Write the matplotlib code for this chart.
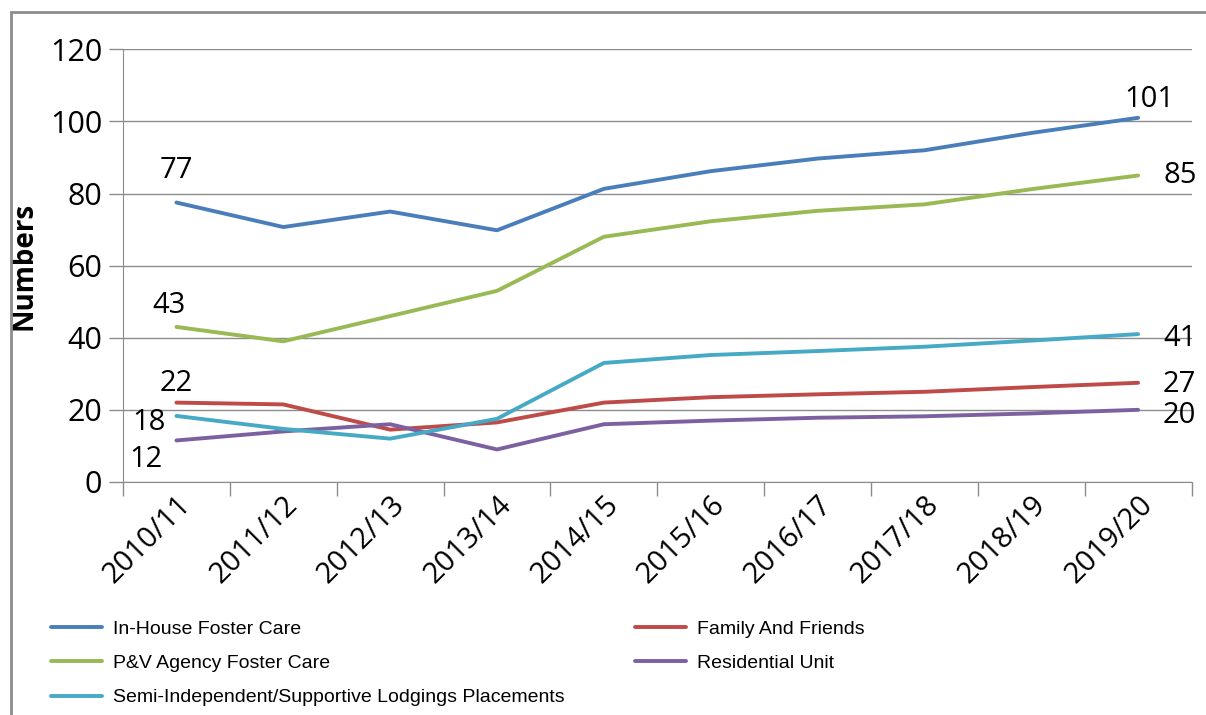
import matplotlib.pyplot as plt
import matplotlib.patches as patches
import numpy as np

years = ["2010/11", "2011/12", "2012/13", "2013/14", "2014/15",
         "2015/16", "2016/17", "2017/18", "2018/19", "2019/20"]
in_house = [77.5, 70.7, 75, 69.8, 81.3, 86.2, 89.7, 92, 96.8, 101]
family = [22, 21.5, 14.5, 16.5, 22, 23.5, 24.3, 25, 26.3, 27.5]
pv_agency = [43, 39, 46, 53, 68, 72.3, 75.2, 77, 81.2, 85]
residential = [11.5, 14, 16, 9, 16, 17, 17.8, 18.2, 19, 20]
semi_indep = [18.3, 14.7, 12, 17.5, 33, 35.2, 36.3, 37.5, 39.2, 41]

names = ["In-House Foster Care", "Family And Friends", "P&V Agency Foster Care",
         "Residential Unit", "Semi-Independent/Supportive Lodgings Placements"]
colors = ["#4A7EBB", "#BE4B48", "#98B954", "#7D60A0", "#46AAC5"]

plt.rcParams['font.family'] = ['Open Sans', 'DejaVu Sans']

fig = plt.figure(figsize=(12.06, 7.15), dpi=100)
ax = fig.add_axes([0.102, 0.326, 0.886, 0.605])

x = np.arange(len(years))
series = [in_house, family, pv_agency, residential, semi_indep]
lines = []
for vals, name, c in zip(series, names, colors):
    ln, = ax.plot(x, vals, color=c, lw=2.8, label=name, solid_capstyle='round', zorder=3)
    lines.append(ln)

ax.set_xlim(-0.5, len(years) - 0.5)
ax.set_ylim(0, 120)
ax.set_yticks(range(0, 121, 20))
ax.yaxis.grid(True, color="#8c8c8c", lw=1)
ax.set_axisbelow(True)
ax.set_xticks(np.arange(-0.5, len(years), 1.0))
ax.set_xticklabels([])
ax.set_xticks(x, minor=True)
ax.set_xticklabels(years, minor=True, rotation=45, ha='right', va='top',
                   rotation_mode='anchor', fontsize=21)
ax.tick_params(axis='x', which='minor', length=0, pad=6)
ax.tick_params(axis='x', which='major', length=10, color="#8c8c8c", width=1)
ax.tick_params(axis='y', length=10, color="#8c8c8c", width=1, labelsize=22, pad=5)
for s in ["top", "right"]:
    ax.spines[s].set_visible(False)
for s in ["left", "bottom"]:
    ax.spines[s].set_color("#8c8c8c")
ax.set_ylabel("Numbers", fontsize=20, fontweight='bold', labelpad=8)

fs = 21
ax.annotate("77", (0, in_house[0]), xytext=(0, 18), textcoords='offset points', ha='center', fontsize=fs)
ax.annotate("43", (0, pv_agency[0]), xytext=(-5, 10), textcoords='offset points', ha='center', fontsize=fs)
ax.annotate("22", (0, family[0]), xytext=(0, 8), textcoords='offset points', ha='center', fontsize=fs)
ax.annotate("18", (0, semi_indep[0]), xytext=(-8, -5), textcoords='offset points', ha='right', va='center', fontsize=fs)
ax.annotate("12", (0, residential[0]), xytext=(-22, -14), textcoords='offset points', ha='center', va='center', fontsize=fs)
ax.annotate("101", (9, in_house[9]), xytext=(8, 8), textcoords='offset points', ha='center', fontsize=fs)
ax.annotate("85", (9, pv_agency[9]), xytext=(30, 0), textcoords='offset points', ha='center', va='center', fontsize=fs)
ax.annotate("41", (9, semi_indep[9]), xytext=(30, -3), textcoords='offset points', ha='center', va='center', fontsize=fs)
ax.annotate("27", (9, family[9]), xytext=(30, -1), textcoords='offset points', ha='center', va='center', fontsize=fs)
ax.annotate("20", (9, residential[9]), xytext=(30, -4), textcoords='offset points', ha='center', va='center', fontsize=fs)

order = [0, 2, 4, 1, 3]
fig.legend([lines[i] for i in order], [names[i] for i in order], ncol=2,
           loc='upper left', bbox_to_anchor=(0.036, 0.143), frameon=False,
           prop={'family': ['Liberation Sans Narrow', 'Liberation Sans'], 'size': 14},
           handlelength=2.6, handletextpad=0.6, columnspacing=3.6,
           labelspacing=0.85, borderaxespad=0)

fig.patches.append(patches.Rectangle((0.009, -0.02), 1.0, 1.0 - 0.017 + 0.02, transform=fig.transFigure,
                                     fill=False, edgecolor="#8c8c8c", lw=2))

fig.savefig("out.png", dpi=100)
